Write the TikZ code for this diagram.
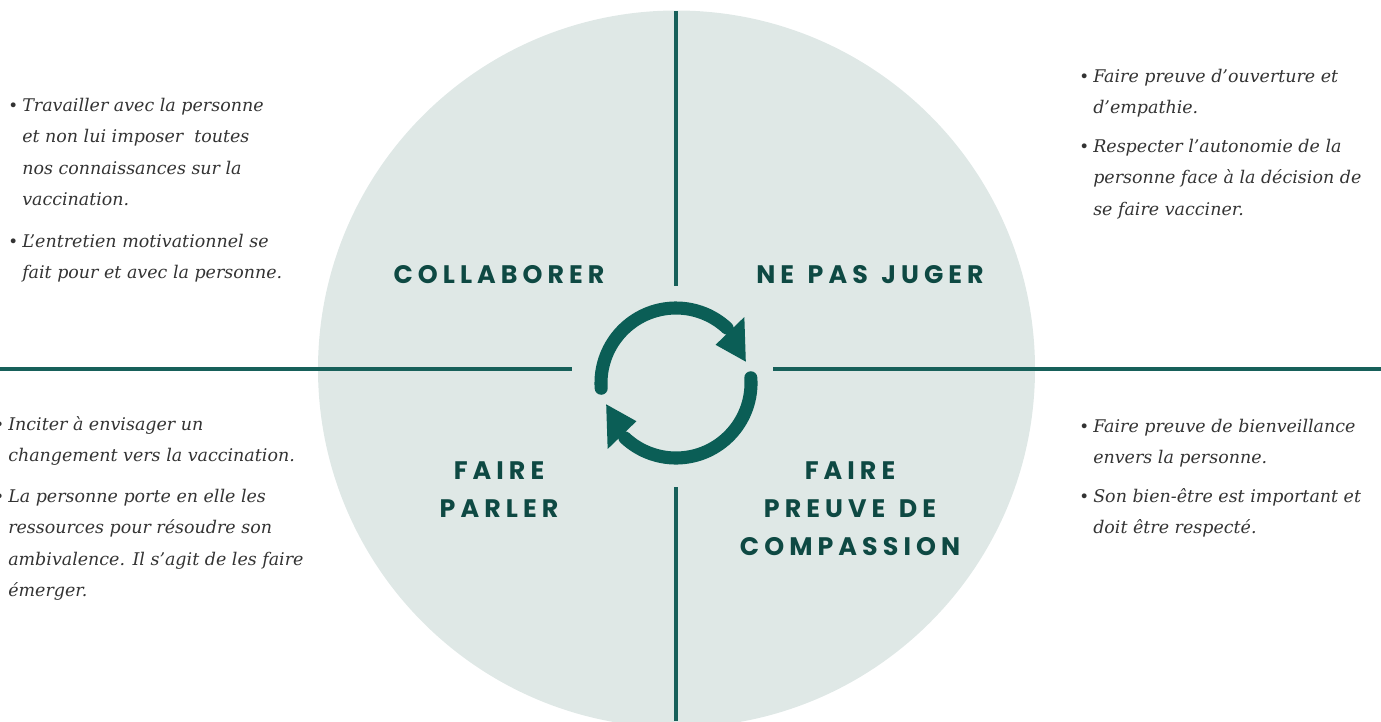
\documentclass[tikz,border=0pt]{standalone}
\usepackage{fontspec}
\setmainfont{DejaVu Serif}
\newfontfamily\headfont[LetterSpace=20,WordSpace=1.3]{Poppins}
\usetikzlibrary{calc}
\definecolor{discfill}{HTML}{DFE8E6}
\definecolor{axisc}{HTML}{17605A}
\definecolor{cycc}{HTML}{0B5E56}
\definecolor{headc}{HTML}{0E4943}
\definecolor{bodyc}{HTML}{333333}
\tikzset{
  axis line/.style={draw=axisc, line width=2.4pt},
  cycarc/.style={draw=cycc, line width=9.8pt, line cap=round},
  cychead/.style={fill=cycc},
  headtxt/.style={font=\headfont\bfseries\fontsize{19}{28.5}\selectfont, text=headc, inner sep=0pt, align=center},
  bodytxt/.style={font=\itshape\fontsize{13.1}{23.7}\selectfont, text=bodyc, inner sep=0pt, align=left, anchor=base west},
  bullettxt/.style={font=\fontsize{12.5}{23.7}\selectfont, text=bodyc, inner sep=0pt, anchor=base west},
}
\begin{document}
\begin{tikzpicture}[x=0.75pt, y=-0.75pt]
\useasboundingbox (0,0) rectangle (1381,721);
\clip (0,0) rectangle (1381,721);
% disc
\coordinate (O) at (676.5,369);
\fill[discfill] (O) circle[radius=358.5];
% axes
\coordinate (vt) at (676,11);
\coordinate (vm1) at (676,286);
\coordinate (vm2) at (676,487);
\coordinate (vb) at (676,721);
\coordinate (hl) at (0,369);
\coordinate (hm1) at (572,369);
\coordinate (hm2) at (773,369);
\coordinate (hr) at (1381,369);
\draw[axis line] (vt) -- (vm1);
\draw[axis line] (vm2) -- (vb);
\draw[axis line] (hl) -- (hm1);
\draw[axis line] (hm2) -- (hr);
% cycle icon
\coordinate (C) at (676,383);
\draw[cycarc] ($(C)+(-184:75)$) arc[start angle=-184, end angle=-47, radius=75];
\fill[cychead] ($(C)+(-44:95)$) -- ($(C)+(-17:73)$) -- ($(C)+(-44:55)$) -- cycle;
\draw[cycarc] ($(C)+(-4:75)$) arc[start angle=-4, end angle=133, radius=75];
\fill[cychead] ($(C)+(136:95)$) -- ($(C)+(163:73)$) -- ($(C)+(136:55)$) -- cycle;
% headings (base = last line)
\node[headtxt, anchor=base] (collab) at (499,283) {COLLABORER};
\node[headtxt, anchor=base] (juger) at (870,283) {NE PAS JUGER};
\node[headtxt, anchor=base] (parler) at (499,517) {FAIRE\\PARLER};
\node[headtxt, anchor=base] (compassion) at (850,555) {FAIRE\\PREUVE DE\\COMPASSION};
% top left (base = last line)
\node[bullettxt] (tlb1) at (8,111) {•};
\node[bodytxt] (tl1) at (22,205.8) {Travailler avec la personne\\et non lui imposer\ \ toutes\\nos connaissances sur la\\vaccination.};
\node[bullettxt] (tlb2) at (8,247) {•};
\node[bodytxt] (tl2) at (22,278.6) {L’entretien motivationnel se\\fait pour et avec la personne.};
% top right
\node[bullettxt] (trb1) at (1079,82) {•};
\node[bodytxt] (tr1) at (1093,113.6) {Faire preuve d’ouverture et\\d’empathie.};
\node[bullettxt] (trb2) at (1079,152) {•};
\node[bodytxt] (tr2) at (1093,215.2) {Respecter l’autonomie de la\\personne face à la décision de\\se faire vacciner.};
% bottom left
\node[bullettxt] (blb1) at (-6,430) {•};
\node[bodytxt] (bl1) at (8,461.6) {Inciter à envisager un\\changement vers la vaccination.};
\node[bullettxt] (blb2) at (-6,502) {•};
\node[bodytxt] (bl2) at (8,596.8) {La personne porte en elle les\\ressources pour résoudre son\\ambivalence. Il s’agit de les faire\\émerger.};
% bottom right
\node[bullettxt] (brb1) at (1079,432) {•};
\node[bodytxt] (br1) at (1093,463.6) {Faire preuve de bienveillance\\envers la personne.};
\node[bullettxt] (brb2) at (1079,502) {•};
\node[bodytxt] (br2) at (1093,533.6) {Son bien-être est important et\\doit être respecté.};
\end{tikzpicture}
\end{document}
